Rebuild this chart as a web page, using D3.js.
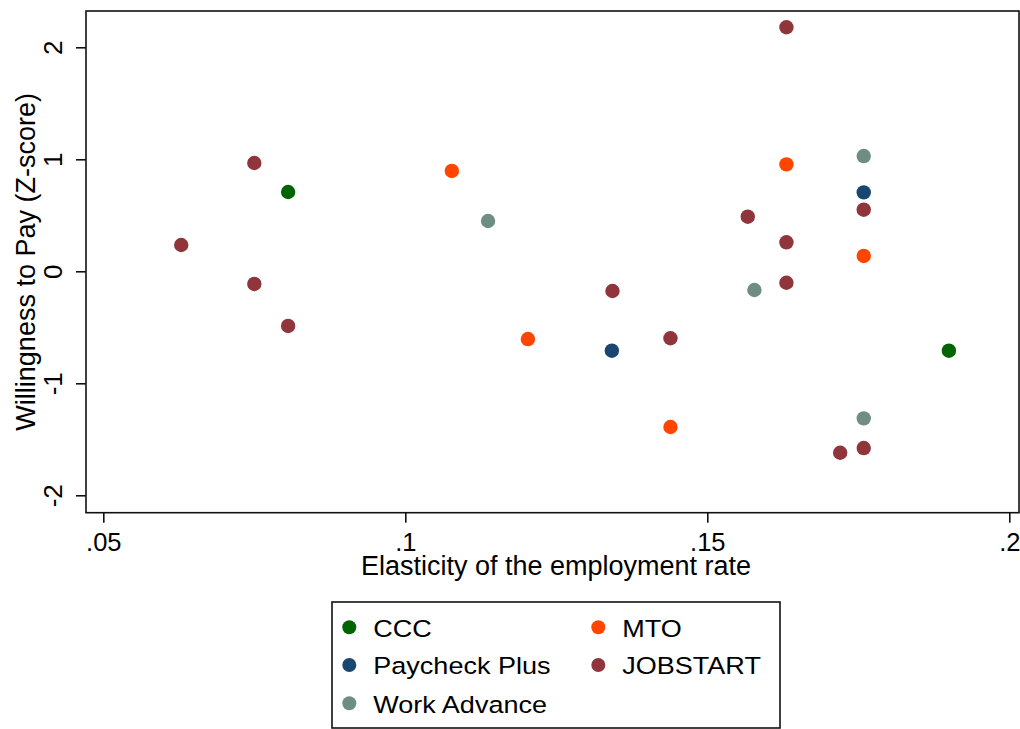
<!DOCTYPE html>
<html>
<head>
<meta charset="utf-8">
<script src="https://cdn.jsdelivr.net/npm/d3@7"></script>
<style>
  html, body { margin: 0; padding: 0; background: #fff; }
  svg { display: block; font-family: "Liberation Sans", Arial, Helvetica, sans-serif; }
</style>
</head>
<body>
<svg id="chart" width="1020" height="729"></svg>
<script>
// Programs shown in the legend, in legend order
const programs = ["CCC", "Paycheck Plus", "Work Advance", "MTO", "JOBSTART"];
const programColors = ["#006400", "#1a476f", "#6e8e84", "#ff4500", "#90353b"];

// Elasticity of the employment rate (x) and willingness to pay, z-score (y)
const cccX = [0.0806, 0.1900];
const cccY = [0.708, -0.709];

const paycheckX = [0.1342, 0.1759];
const paycheckY = [-0.709, 0.705];

const workAdvX = [0.1137, 0.1578, 0.1759, 0.1759];
const workAdvY = [0.449, -0.167, 1.029, -1.313];

const mtoX = [0.1077, 0.1203, 0.1439, 0.1631, 0.1759];
const mtoY = [0.896, -0.605, -1.390, 0.955, 0.137];

const jobstartX = [0.0629, 0.0750, 0.0750, 0.0806, 0.1343, 0.1439, 0.1567, 0.1631, 0.1631, 0.1631, 0.1759, 0.1720, 0.1759];
const jobstartY = [0.235, 0.967, -0.113, -0.488, -0.176, -0.598, 0.4875, 2.179, 0.259, -0.102, 0.550, -1.620, -1.578];

const xTicks = [0.05, 0.10, 0.15, 0.20];
const xTickLabels = [".05", ".1", ".15", ".2"];
const yTicks = [-2, -1, 0, 1, 2];
const yTickLabels = ["-2", "-1", "0", "1", "2"];

// Series table built from the arrays above
const seriesX = { "CCC": cccX, "Paycheck Plus": paycheckX, "Work Advance": workAdvX, "MTO": mtoX, "JOBSTART": jobstartX };
const seriesY = { "CCC": cccY, "Paycheck Plus": paycheckY, "Work Advance": workAdvY, "MTO": mtoY, "JOBSTART": jobstartY };
const drawOrder = ["JOBSTART", "MTO", "Work Advance", "Paycheck Plus", "CCC"];
const points = [];
drawOrder.forEach(p => seriesX[p].forEach((v, i) => points.push({ program: p, x: v, y: seriesY[p][i] })));

const svg = d3.select("#chart");
const plot = { left: 86, right: 1019, top: 11, bottom: 512.7 };

const x = d3.scaleLinear().domain([0.05, 0.20]).range([103.3, 1009.3]);
const y = d3.scaleLinear().domain([-2, 2]).range([495.3, 47.3]);
const color = d3.scaleOrdinal().domain(programs).range(programColors);

// Plot frame
svg.append("rect")
  .attr("x", plot.left).attr("y", plot.top)
  .attr("width", plot.right - plot.left).attr("height", plot.bottom - plot.top)
  .attr("fill", "none").attr("stroke", "#111").attr("stroke-width", 1.6);

// X axis
const xAxis = d3.axisBottom(x).tickValues(xTicks)
  .tickFormat((d, i) => xTickLabels[i]).tickSize(10).tickPadding(12);
const gx = svg.append("g").attr("transform", `translate(0,${plot.bottom})`).call(xAxis);
gx.select(".domain").remove();
gx.selectAll(".tick line").attr("stroke", "#111").attr("stroke-width", 1.6);
gx.selectAll(".tick text").attr("font-size", 25.5).attr("fill", "#000")
  .attr("font-family", "'Liberation Sans', Arial, sans-serif")
  .attr("dy", null).attr("y", 38.5);

// Y axis with rotated tick labels
const yAxis = d3.axisLeft(y).tickValues(yTicks)
  .tickFormat((d, i) => yTickLabels[i]).tickSize(10);
const gy = svg.append("g").attr("transform", `translate(${plot.left},0)`).call(yAxis);
gy.select(".domain").remove();
gy.selectAll(".tick line").attr("stroke", "#111").attr("stroke-width", 1.6);
gy.selectAll(".tick text")
  .attr("font-size", 26).attr("fill", "#000")
  .attr("font-family", "'Liberation Sans', Arial, sans-serif")
  .attr("x", null).attr("dy", null)
  .attr("text-anchor", "middle")
  .attr("transform", "translate(-24,0) rotate(-90)");

// Axis titles
svg.append("text")
  .attr("x", 556).attr("y", 574.5)
  .attr("text-anchor", "middle").attr("font-size", 27).attr("fill", "#000")
  .text("Elasticity of the employment rate");

svg.append("text")
  .attr("transform", `translate(35,${(plot.top + plot.bottom) / 2}) rotate(-90)`)
  .attr("text-anchor", "middle").attr("font-size", 27).attr("fill", "#000")
  .text("Willingness to Pay (Z-score)");

// Scatter points
svg.append("g").selectAll("circle").data(points).join("circle")
  .attr("cx", d => x(d.x)).attr("cy", d => y(d.y))
  .attr("r", 7.2).attr("fill", d => color(d.program));

// Legend
const legend = { left: 332, top: 602, right: 780, bottom: 728 };
svg.append("rect")
  .attr("x", legend.left).attr("y", legend.top)
  .attr("width", legend.right - legend.left).attr("height", legend.bottom - legend.top)
  .attr("fill", "#fff").attr("stroke", "#111").attr("stroke-width", 1.6);

const legendCols = [349.3, 598.3];
const legendRows = [627.3, 665, 703.3];
const legendItems = programs.map((p, i) => ({
  program: p,
  cx: legendCols[i < 3 ? 0 : 1],
  cy: legendRows[i < 3 ? i : i - 3]
}));
const li = svg.append("g").selectAll("g").data(legendItems).join("g");
li.append("circle")
  .attr("cx", d => d.cx).attr("cy", d => d.cy).attr("r", 7)
  .attr("fill", d => color(d.program));
li.append("text")
  .attr("transform", d => `translate(${d.cx + 24},${d.cy + 9.3}) scale(1.15,1)`)
  .attr("font-size", 23.5).attr("fill", "#000")
  .text(d => d.program);
</script>
</body>
</html>
